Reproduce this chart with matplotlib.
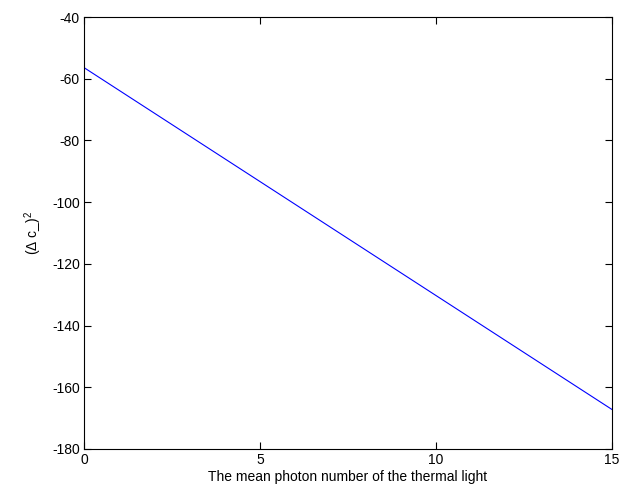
import matplotlib
matplotlib.use("Agg")
import matplotlib.pyplot as plt
import numpy as np

x_values = [0, 15]
y_values = [-56.4, -167.2]
x_ticks = [0, 5, 10, 15]
y_ticks = [-180, -160, -140, -120, -100, -80, -60, -40]

plt.rcParams['font.family'] = ['Liberation Sans', 'DejaVu Sans']
plt.rcParams['mathtext.fontset'] = 'custom'
plt.rcParams['mathtext.rm'] = 'Liberation Sans'
plt.rcParams['axes.unicode_minus'] = False

fig = plt.figure(figsize=(6.22, 4.97), dpi=100)
ax = fig.add_axes([84/622, 48/497, 528/622, 432/497])
ax.plot(x_values, y_values, color='#0000ff', linewidth=0.8)
ax.set_xlim(0, 15)
ax.set_ylim(-180, -40)
ax.set_xticks(x_ticks)
ax.set_yticks(y_ticks)
ax.tick_params(direction='in', length=5, width=0.8, top=True, right=True, labelsize=10, pad=3)
for s in ax.spines.values():
    s.set_linewidth(0.8)
ax.set_xlabel('The mean photon number of the thermal light', fontsize=10, labelpad=2)
ax.set_ylabel(r'(Δ c_)$^{\mathregular{2}}$', fontsize=10, labelpad=6)
fig.savefig('out.png', dpi=100)
